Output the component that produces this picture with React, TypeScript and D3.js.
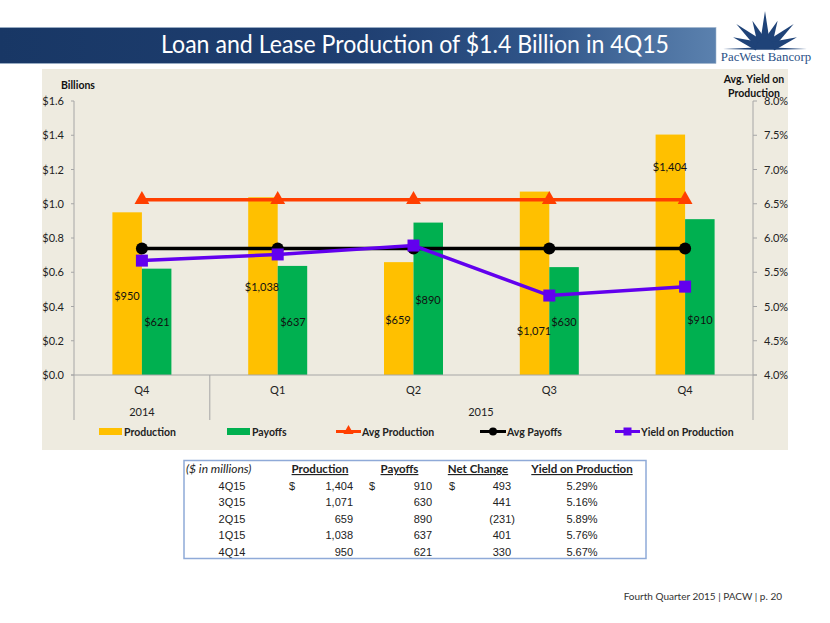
import React from "react";
import * as d3 from "d3";

const categories = ["Q4", "Q1", "Q2", "Q3", "Q4"];
const production = [950, 1038, 659, 1071, 1404];
const payoffs = [621, 637, 890, 630, 910];
const avgProduction = [1024, 1024, 1024, 1024, 1024];
const avgPayoffs = [738, 738, 738, 738, 738];
const yieldOnProduction = [5.67, 5.76, 5.89, 5.16, 5.29];
const leftTicks = [0, 0.2, 0.4, 0.6, 0.8, 1.0, 1.2, 1.4, 1.6];
const rightTicks = [4, 4.5, 5, 5.5, 6, 6.5, 7, 7.5, 8];
const tableHeaders = ["Production", "Payoffs", "Net Change", "Yield on Production"];
const tableRows = ["4Q15", "3Q15", "2Q15", "1Q15", "4Q14"];
const tableProduction = ["1,404", "1,071", "659", "1,038", "950"];
const tablePayoffs = ["910", "630", "890", "637", "621"];
const tableNet = ["493", "441", "(231)", "401", "330"];
const tableYield = ["5.29%", "5.16%", "5.89%", "5.76%", "5.67%"];
const rayAngles = [-70, -49, -24, 0, 24, 49, 70];
const rayLengths = [34, 38, 31, 38, 31, 38, 34];

const F = "Lato, 'Open Sans', sans-serif";
const A = "'Liberation Sans', Arial, sans-serif";
const ORANGE = "#FFC000", GREEN = "#00B050", RED = "#FF3F00", PURPLE = "#6200EE";
const AX = "#A6A6A6";

export default function App() {
  const L = 74, R = 753, T = 101, B = 375;
  const x = d3.scaleBand<number>().domain(d3.range(5)).range([L, R]);
  const yL = d3.scaleLinear().domain([0, 1.6]).range([B, T]);
  const yR = d3.scaleLinear().domain([4, 8]).range([B, T]);
  const cx = (i: number) => x(i)! + x.bandwidth() / 2;
  const barW = 29.5;
  const lineK = d3.line<number>().x((_, i) => cx(i)).y((d) => yL(d / 1000));
  const lineY = d3.line<number>().x((_, i) => cx(i)).y((d) => yR(d));
  const tri = d3.symbol().type(d3.symbolTriangle).size(95)();
  const triSmall = d3.symbol().type(d3.symbolTriangle).size(45)();
  const rowY = (i: number) => 489.5 + i * 16.6;
  const labelPos = [
    { p: [127, 296], q: [157, 322] },
    { p: [262, 287], q: [293, 322] },
    { p: [398, 320], q: [428, 300] },
    { p: [534, 331], q: [564, 322] },
    { p: [670, 167], q: [700, 320] },
  ];
  const ox = 765, oy = 49;
  const rays = rayAngles.map((a, i) => {
    const r = (a * Math.PI) / 180;
    const w = 4.6, r0 = 8;
    const sx = Math.sin(r), cy = Math.cos(r);
    return `M${ox + sx * r0 - cy * w},${oy - cy * r0 - sx * w} L${ox + sx * rayLengths[i]},${oy - cy * rayLengths[i]} L${ox + sx * r0 + cy * w},${oy - cy * r0 + sx * w} Z`;
  });

  return (
    <svg width={830} height={623} style={{ position: "absolute", left: 0, top: 0, background: "#fff" }}>
      <defs>
        <linearGradient id="band" x1="0" x2="1" y1="0" y2="0">
          <stop offset="0" stopColor="#183765" />
          <stop offset="0.5" stopColor="#1F3F71" />
          <stop offset="0.75" stopColor="#2F5488" />
          <stop offset="1" stopColor="#5B81AE" />
        </linearGradient>
      </defs>
      <rect x={-1} y={27.5} width={717} height={36} fill="url(#band)" stroke="#9FB4CC" strokeWidth={0.6} />
      <text x={161} y={53} fontFamily={F} fontSize={25.5} fill="#fff" textLength={508} lengthAdjust="spacingAndGlyphs">Loan and Lease Production of $1.4 Billion in 4Q15</text>

      {rays.map((d, i) => <path key={i} d={d} fill="#1F4378" />)}
      <path d={`M723,${oy} L${ox - 9},${oy - 1.5} A9,9 0 0 1 ${ox + 9},${oy - 1.5} L807,${oy} L${ox + 9},${oy + 0.8} L${ox - 9},${oy + 0.8} Z`} fill="#1F4378" />
      <text x={766} y={61} fontFamily="'Liberation Serif', serif" fontSize={12.8} fill="#2B5186" textAnchor="middle">PacWest Bancorp</text>

      <rect x={42} y={69} width={746} height={381} fill="#EEEBE0" />

      <text x={78} y={89} fontFamily={F} fontSize={10.5} fontWeight={700} fill="#111" textAnchor="middle">Billions</text>
      <text x={754} y={83} fontFamily={F} fontSize={10.5} fontWeight={700} fill="#111" textAnchor="middle">Avg. Yield on</text>
      <text x={754} y={97} fontFamily={F} fontSize={10.5} fontWeight={700} fill="#111" textAnchor="middle">Production</text>

      {production.map((v, i) => (
        <rect key={i} x={cx(i) - barW} y={yL(v / 1000)} width={barW} height={B - yL(v / 1000)} fill={ORANGE} />
      ))}
      {payoffs.map((v, i) => (
        <rect key={i} x={cx(i)} y={yL(v / 1000)} width={barW} height={B - yL(v / 1000)} fill={GREEN} />
      ))}

      <line x1={L} x2={L} y1={T} y2={420} stroke={AX} />
      <line x1={R} x2={R} y1={T} y2={420} stroke={AX} />
      <line x1={L - 3} x2={R + 4} y1={B} y2={B} stroke={AX} />
      <line x1={x(1)!} x2={x(1)!} y1={B} y2={420} stroke={AX} />
      {leftTicks.map((t) => (
        <g key={t}>
          <line x1={L - 3} x2={L} y1={yL(t)} y2={yL(t)} stroke={AX} />
          <text x={L - 10} y={yL(t) + 4} fontFamily={F} fontSize={11} fill="#222" textAnchor="end">{"$" + d3.format(".1f")(t)}</text>
        </g>
      ))}
      {rightTicks.map((t) => (
        <g key={t}>
          <line x1={R} x2={R + 4} y1={yR(t)} y2={yR(t)} stroke={AX} />
          <text x={R + 11} y={yR(t) + 4} fontFamily={F} fontSize={11} fill="#222">{d3.format(".1f")(t) + "%"}</text>
        </g>
      ))}

      <path d={lineK(avgProduction)!} fill="none" stroke={RED} strokeWidth={3.5} />
      {avgProduction.map((v, i) => <path key={i} d={tri!} fill={RED} transform={`translate(${cx(i)},${yL(v / 1000)})`} />)}
      <path d={lineK(avgPayoffs)!} fill="none" stroke="#000" strokeWidth={3.5} />
      {avgPayoffs.map((v, i) => <circle key={i} cx={cx(i)} cy={yL(v / 1000)} r={6} fill="#000" />)}
      <path d={lineY(yieldOnProduction)!} fill="none" stroke={PURPLE} strokeWidth={3.5} />
      {yieldOnProduction.map((v, i) => <rect key={i} x={cx(i) - 6} y={yR(v) - 6} width={12} height={12} fill={PURPLE} />)}

      {production.map((v, i) => (
        <text key={i} x={labelPos[i].p[0]} y={labelPos[i].p[1] + 4} fontFamily={F} fontSize={11} fill="#111" textAnchor="middle">{"$" + d3.format(",")(v)}</text>
      ))}
      {payoffs.map((v, i) => (
        <text key={i} x={labelPos[i].q[0]} y={labelPos[i].q[1] + 4} fontFamily={F} fontSize={11} fill="#111" textAnchor="middle">{"$" + d3.format(",")(v)}</text>
      ))}

      {categories.map((c, i) => (
        <text key={i} x={cx(i)} y={394} fontFamily={F} fontSize={11} fill="#222" textAnchor="middle">{c}</text>
      ))}
      <text x={142} y={416} fontFamily={F} fontSize={11} fill="#222" textAnchor="middle">2014</text>
      <text x={481} y={416} fontFamily={F} fontSize={11} fill="#222" textAnchor="middle">2015</text>

      <rect x={99} y={428} width={23} height={7} fill={ORANGE} />
      <text x={124} y={435.5} fontFamily={F} fontSize={10.5} fontWeight={700} fill="#222">Production</text>
      <rect x={227} y={428} width={23} height={7} fill={GREEN} />
      <text x={252} y={435.5} fontFamily={F} fontSize={10.5} fontWeight={700} fill="#222">Payoffs</text>
      <line x1={336} x2={361} y1={431.5} y2={431.5} stroke={RED} strokeWidth={3} />
      <path d={triSmall!} fill={RED} transform="translate(348.5,431)" />
      <text x={362} y={435.5} fontFamily={F} fontSize={10.5} fontWeight={700} fill="#222">Avg Production</text>
      <line x1={480} x2={506} y1={431.5} y2={431.5} stroke="#000" strokeWidth={3} />
      <circle cx={493} cy={431.5} r={4} fill="#000" />
      <text x={507} y={435.5} fontFamily={F} fontSize={10.5} fontWeight={700} fill="#222">Avg Payoffs</text>
      <line x1={615} x2={640} y1={431.5} y2={431.5} stroke={PURPLE} strokeWidth={3} />
      <rect x={623.5} y={427.5} width={8} height={8} fill={PURPLE} />
      <text x={641} y={435.5} fontFamily={F} fontSize={10.5} fontWeight={700} fill="#222">Yield on Production</text>

      <rect x={184} y={460.5} width={462} height={98} fill="#fff" stroke="#8FAAD8" strokeWidth={1.5} />
      <text x={186} y={473} fontFamily={F} fontSize={12} fontStyle="italic" fill="#222">($ in millions)</text>
      {tableHeaders.map((h, i) => (
        <text key={h} x={[320, 399.5, 478, 582][i]} y={473} fontFamily={F} fontSize={11.5} fontWeight={700} fill="#222" textAnchor="middle" textDecoration="underline">{h}</text>
      ))}
      {tableRows.map((r, i) => (
        <g key={r} fontFamily={A} fontSize={11} fill="#222">
          <text x={232} y={rowY(i)} textAnchor="middle">{r}</text>
          <text x={353} y={rowY(i)} textAnchor="end">{tableProduction[i]}</text>
          <text x={432} y={rowY(i)} textAnchor="end">{tablePayoffs[i]}</text>
          <text x={tableNet[i].startsWith("(") ? 515 : 511} y={rowY(i)} textAnchor="end">{tableNet[i]}</text>
          <text x={582} y={rowY(i)} textAnchor="middle">{tableYield[i]}</text>
          {i === 0 && (
            <>
              <text x={292} y={rowY(i)} textAnchor="middle">$</text>
              <text x={372} y={rowY(i)} textAnchor="middle">$</text>
              <text x={452} y={rowY(i)} textAnchor="middle">$</text>
            </>
          )}
        </g>
      ))}

      <text x={782} y={600} fontFamily={F} fontSize={10} fill="#333" textAnchor="end">Fourth Quarter 2015 | PACW | p. 20</text>
    </svg>
  );
}
